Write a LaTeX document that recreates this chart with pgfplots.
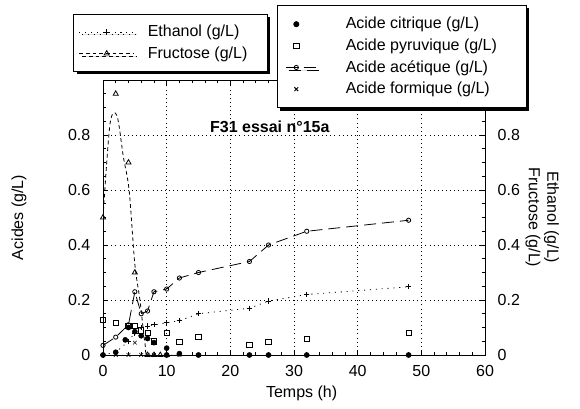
\documentclass[border=0pt]{standalone}
\usepackage{fontspec}
\setmainfont{Liberation Sans}
\usepackage{pgfplots}
\pgfplotsset{compat=1.18}
\usetikzlibrary{shadows}

\begin{document}
\begin{tikzpicture}[font=\fontsize{12}{14}\selectfont]
\pgfplotsset{
  base/.style={
    scale only axis, width=286.5pt, height=206.25pt,
    xmin=0, xmax=60, ymin=0, ymax=1,
    /pgf/number format/assume math mode=true,
    ticklabel style={font=\fontsize{12}{14}\selectfont},
    legend cell align=left,
    major tick length=3.8pt, minor tick length=2.3pt,
    tick style={black, line width=0.5pt},
    axis line style={line width=0.7pt},
  },
  lgd/.style={fill=white, draw=black, line width=0.7pt, row sep=1.5pt,
    drop shadow={shadow xshift=2.2pt, shadow yshift=-2.2pt, fill=black, opacity=1}},
  ethstyle/.style={black, line width=0.6pt, dash pattern=on 0.8pt off 3.6pt, mark=+, mark size=2pt, mark options={solid}},
  frustyle/.style={black, line width=0.6pt, dash pattern=on 2.8pt off 2.2pt, mark=triangle, mark size=2.2pt, mark options={solid}},
}

% axe de droite : ethanol et fructose
\begin{axis}[base, name=axA,
  hide x axis, axis y line*=right,
  ytick={0,0.2,0.4,0.6,0.8}, ytick style={draw=none}, minor ytick={},
  yticklabel style={xshift=6pt},
  ylabel={Ethanol (g/L)\\Fructose (g/L)},
  ylabel style={at={(axis description cs:1.15,0.5)}, anchor=center, rotate=180, align=center},
  legend style={at={(-0.078,1.24)}, anchor=north west, lgd, inner xsep=4pt, inner ysep=6pt, column sep=8pt, row sep=2pt},
  legend image code/.code={\draw[mark repeat=2,mark phase=2,#1] plot coordinates {(0cm,0cm) (0.72cm,0cm) (1.44cm,0cm)};},
]
\addplot[ethstyle] coordinates {
  (0,0.0) (2,0.01) (4,0.05) (5,0.08) (6,0.10) (7,0.105) (8,0.11) (10,0.117)
  (12,0.125) (15,0.15) (23,0.17) (26,0.196) (32,0.22) (48,0.248)
};
\addlegendentry{Ethanol (g/L)}
\addlegendimage{frustyle}
\addlegendentry{Fructose (g/L)\hspace*{9pt}}
% courbe lissee du fructose
\addplot[frustyle, mark=none, smooth, tension=0.5, forget plot] coordinates {
  (0,0.5) (1.1,0.84) (2.2,0.87) (3.2,0.72) (4.1,0.6) (5,0.33) (5.8,0.2) (6.6,0.04) (7.2,0) (12,0)
};
\addplot[frustyle, only marks, forget plot] coordinates {
  (0,0.5) (2,0.95) (4,0.7) (5,0.3) (7,0) (8,0) (9,0) (10,0)
};
\end{axis}

% axe de gauche : acides
\begin{axis}[base, name=axB,
  xtick={0,10,...,60}, ytick={0,0.2,0.4,0.6,0.8},
  minor xtick={2,4,...,58},
  minor ytick={0.05,0.1,0.15,0.25,0.3,0.35,0.45,0.5,0.55,0.65,0.7,0.75,0.85,0.9,0.95},
  xmajorgrids, ymajorgrids,
  major grid style={black, line width=0.5pt, dash pattern=on 0.7pt off 2.4pt},
  xticklabel style={yshift=-4pt},
  yticklabel style={xshift=-6pt},
  xlabel={Temps (h)}, ylabel={Acides (g/L)},
  xlabel style={at={(axis description cs:0.52,-0.14)}, anchor=center},
  ylabel style={at={(axis description cs:-0.22,0.5)}, anchor=center},
  legend style={at={(0.455,1.273)}, anchor=north west, lgd, inner xsep=6pt, inner ysep=7pt, column sep=20pt, row sep=2pt},
  legend image code/.code={\draw[mark repeat=2,mark phase=2,#1] plot coordinates {(0cm,0cm) (0.28cm,0cm) (0.8cm,0cm)};},
]
\addplot[only marks, mark=*, mark size=1.9pt, black] coordinates {
  (0,0) (2,0.01) (3.5,0.055) (4,0.1) (5,0.085) (6,0.07) (7,0.06) (8,0.045)
  (10,0.025) (10,0) (12,0.005) (15,0) (23,0) (26,0) (32,0) (48,0)
};
\addlegendentry{Acide citrique (g/L)}
\addplot[only marks, mark=square, mark size=2pt, black, mark options={line width=0.6pt}] coordinates {
  (0,0.127) (2,0.116) (4,0.106) (5,0.106) (6,0.09) (7,0.08) (8,0.05)
  (10,0.08) (12,0.047) (15,0.066) (23,0.036) (26,0.047) (32,0.058) (48,0.08)
};
\addlegendentry{Acide pyruvique (g/L)\hspace*{14pt}}
\addplot[black, line width=0.6pt, dash pattern=on 9pt off 4.5pt, mark=o, mark size=1.6pt, mark options={solid}] coordinates {
  (0,0.035) (2,0.065) (4,0.11) (5,0.23) (6,0.15) (7,0.16) (8,0.23) (10,0.24)
  (12,0.28) (15,0.30) (23,0.34) (26,0.40) (32,0.45) (48,0.49)
};
\addlegendentry{Acide acétique (g/L)}
\addplot[only marks, mark=x, mark size=2pt, black] coordinates {
  (0,0) (2,0) (4,0) (5,0.045) (6,0) (7,0) (8,0) (10,0) (12,0)
};
\addlegendentry{Acide formique (g/L)}
\node[font=\bfseries\fontsize{12}{14}\selectfont] at (axis cs:26.2,0.83) {F31 essai n°15a};
\end{axis}

\path ([xshift=-77.25pt,yshift=-39.75pt]axB.south west) rectangle ([xshift=71.25pt,yshift=60pt]axB.north east);
\end{tikzpicture}
\end{document}
